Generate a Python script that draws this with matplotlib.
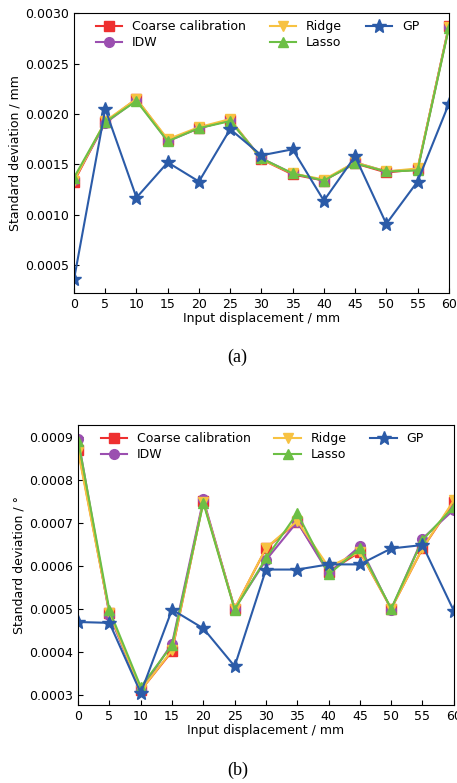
import numpy as np
import matplotlib
matplotlib.use('Agg')
import matplotlib.pyplot as plt

# Input displacement (mm)
x = [0, 5, 10, 15, 20, 25, 30, 35, 40, 45, 50, 55, 60]

# (a) standard deviation of position / mm
coarse_a = [0.00133, 0.00192, 0.00215, 0.00174, 0.00186, 0.00194, 0.00155, 0.00140, 0.00134, 0.00151, 0.00142, 0.00145, 0.00287]
idw_a = [0.00135, 0.00191, 0.00214, 0.00173, 0.00186, 0.00194, 0.00156, 0.00141, 0.00134, 0.00152, 0.00143, 0.00145, 0.00286]
ridge_a = [0.00134, 0.00193, 0.00215, 0.00175, 0.00187, 0.00195, 0.00155, 0.00141, 0.00135, 0.00152, 0.00143, 0.00146, 0.00286]
lasso_a = [0.00137, 0.00192, 0.00213, 0.00173, 0.00186, 0.00193, 0.00156, 0.00141, 0.00134, 0.00151, 0.00143, 0.00144, 0.00285]
gp_a = [0.00036, 0.00205, 0.00117, 0.00152, 0.00133, 0.00185, 0.00159, 0.00165, 0.00114, 0.00158, 0.00091, 0.00133, 0.00210]

# (b) standard deviation of angle / deg
coarse_b = [0.000870, 0.000490, 0.000310, 0.000401, 0.000750, 0.000500, 0.000640, 0.000702, 0.000586, 0.000632, 0.000500, 0.000640, 0.000749]
idw_b = [0.000894, 0.000485, 0.000310, 0.000419, 0.000754, 0.000500, 0.000613, 0.000702, 0.000582, 0.000645, 0.000498, 0.000663, 0.000730]
ridge_b = [0.000865, 0.000490, 0.000310, 0.000403, 0.000749, 0.000500, 0.000641, 0.000704, 0.000597, 0.000632, 0.000500, 0.000640, 0.000752]
lasso_b = [0.000891, 0.000496, 0.000318, 0.000415, 0.000746, 0.000498, 0.000617, 0.000722, 0.000580, 0.000640, 0.000500, 0.000660, 0.000737]
gp_b = [0.000469, 0.000467, 0.000304, 0.000498, 0.000454, 0.000366, 0.000591, 0.000591, 0.000603, 0.000603, 0.000640, 0.000648, 0.000495]

labels = ['Coarse calibration', 'IDW', 'Ridge', 'Lasso', 'GP']
colors = ['#ee3030', '#9b4fb0', '#f7c242', '#6cbf45', '#2b5ba8']
markers = ['s', 'o', 'v', '^', '*']
msizes = [7, 7, 7, 7, 10.5]

fs = 9

fig = plt.figure(figsize=(4.57, 7.83), dpi=100)
ax_a = fig.add_axes([0.162, 0.626, 0.820, 0.357])
ax_b = fig.add_axes([0.171, 0.0996, 0.822, 0.357])


def draw(ax, series, ylabel, ylim):
    for vals, lab, c, m, ms in zip(series, labels, colors, markers, msizes):
        ax.plot(x, vals, color=c, marker=m, markersize=ms, linewidth=1.5, label=lab)
    ax.set_xlim(0, 60)
    ax.set_ylim(*ylim)
    ax.set_xticks(x)
    ax.tick_params(direction='in', labelsize=fs)
    ax.set_xlabel('Input displacement / mm', fontsize=fs, labelpad=1)
    ax.set_ylabel(ylabel, fontsize=fs, labelpad=3)
    ax.legend(loc='upper center', ncol=3, frameon=False, fontsize=fs,
              handlelength=2.1, columnspacing=1.9, labelspacing=0.25,
              handletextpad=0.8, borderaxespad=0.15, bbox_to_anchor=(0.49, 1.0))


draw(ax_a, [coarse_a, idw_a, ridge_a, lasso_a, gp_a], 'Standard deviation / mm',
     (0.000225, 0.0030))
draw(ax_b, [coarse_b, idw_b, ridge_b, lasso_b, gp_b], 'Standard deviation / °',
     (0.000276, 0.000926))

fig.text(0.52, 1 - 357 / 783, '(a)', ha='center', va='center',
         fontsize=13, family='Liberation Serif')
fig.text(0.52, 1 - 770 / 783, '(b)', ha='center', va='center',
         fontsize=13, family='Liberation Serif')

fig.savefig('out.png', dpi=100)
